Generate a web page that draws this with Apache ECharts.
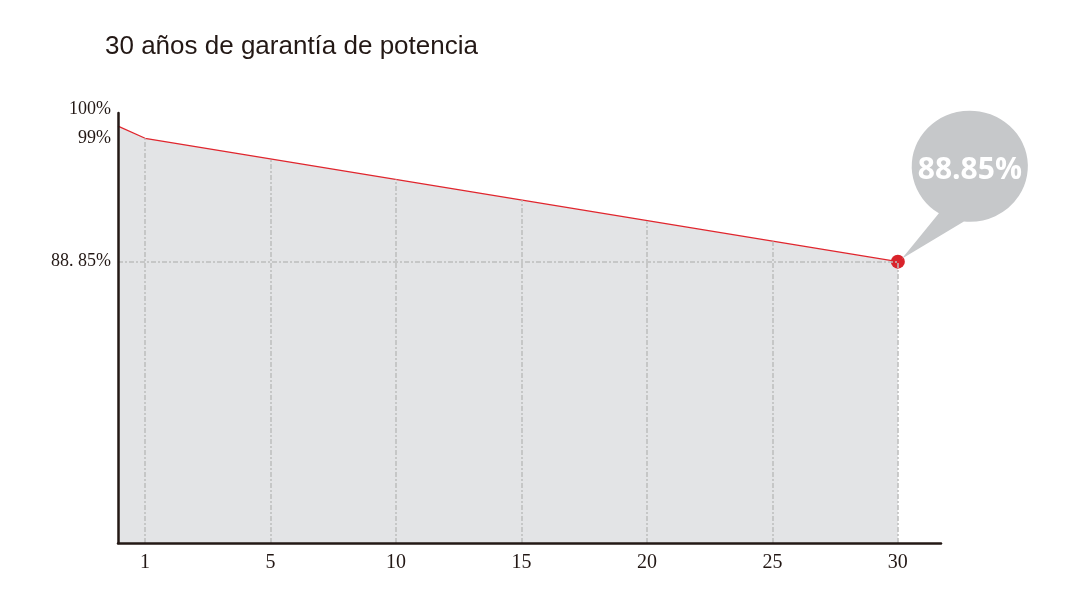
<!DOCTYPE html>
<html>
<head>
<meta charset="utf-8">
<script src="https://cdn.jsdelivr.net/npm/echarts@6/dist/echarts.min.js"></script>
<style>html,body{margin:0;padding:0;background:#fff;}#c{width:1086px;height:615px;}</style>
</head>
<body>
<div id="c"></div>
<script>
// Positions on the drawn horizontal scale (tick "1" sits at position 0)
const linePos = [-1.08, 0, 30];
const lineValues = [100, 99, 88.85];
const xTickPos = [0, 5, 10, 15, 20, 25, 30];
const xTickLabels = ['1', '5', '10', '15', '20', '25', '30'];
// Height of the curve read at each tick (top of each vertical guide line)
const guideTops = [99, 97.3, 95.6, 93.9, 92.2, 90.5, 88.85];
const yTickValues = [100, 99, 88.85];
const yTickLabels = ['100%', '99%', '88. 85%'];
const finalValue = 88.85;
const finalLabel = '88.85%';
const titleText = '30 años de garantía de potencia';

const X_MIN = -1.08, X_MAX = 31.72, Y_MIN = 65.7, Y_MAX = 101.08;

const lineData = linePos.map((p, i) => {
  const item = { value: [p, lineValues[i]] };
  if (i === linePos.length - 1) {
    item.symbol = 'circle';
    item.symbolSize = 14;
    item.itemStyle = { color: '#d9232b' };
  }
  return item;
});

const guideStyle = { color: '#bdbdbd', type: [5, 2, 2, 2], width: 1.5 };
const markLines = xTickPos.map((p, i) => [
  { coord: [p, Y_MIN] },
  { coord: [p, guideTops[i]] }
]);
markLines.push([{ coord: [X_MIN, finalValue] }, { coord: [linePos[linePos.length - 1], finalValue] }]);

const bubblePath = 'path://M 0 148 L 37 104 A 58 54 0 1 1 62 112 Z';

const chart = echarts.init(document.getElementById('c'));
chart.setOption({
  animation: false,
  backgroundColor: '#ffffff',
  title: {
    text: titleText,
    left: 100,
    top: 29,
    textStyle: { fontFamily: 'Liberation Sans', fontSize: 26, fontWeight: 'normal', color: '#231815' }
  },
  grid: { left: 118, right: 145, top: 113, bottom: 72 },
  xAxis: {
    type: 'value',
    min: X_MIN,
    max: X_MAX,
    z: 10,
    axisLine: { show: true, onZero: false, lineStyle: { color: '#231815', width: 2.5 } },
    axisTick: { show: false },
    splitLine: { show: false },
    axisLabel: {
      customValues: xTickPos,
      formatter: v => xTickLabels[xTickPos.indexOf(v)],
      margin: 10,
      fontFamily: 'Liberation Serif',
      fontSize: 20,
      color: '#231815'
    }
  },
  yAxis: {
    type: 'value',
    min: Y_MIN,
    max: Y_MAX,
    z: 10,
    axisLine: { show: true, onZero: false, lineStyle: { color: '#231815', width: 2.5 } },
    axisTick: { show: false },
    splitLine: { show: false },
    axisLabel: {
      customValues: yTickValues,
      formatter: v => {
        const t = yTickLabels[yTickValues.indexOf(v)];
        return v === yTickValues[0] ? '{up|' + t + '}' : t;
      },
      margin: 7,
      fontFamily: 'Liberation Serif',
      fontSize: 18,
      color: '#231815',
      rich: { up: { fontFamily: 'Liberation Serif', fontSize: 18, color: '#231815', padding: [0, 0, 34, 0] } }
    }
  },
  series: [{
    type: 'line',
    data: lineData,
    symbol: 'none',
    showSymbol: true,
    lineStyle: { color: '#e0262e', width: 1.3 },
    areaStyle: { color: '#e3e4e6', opacity: 1 },
    z: 3,
    markLine: {
      silent: true,
      symbol: 'none',
      label: { show: false },
      lineStyle: guideStyle,
      data: markLines
    },
    markPoint: {
      silent: true,
      symbol: bubblePath,
      symbolSize: [126, 148],
      symbolKeepAspect: false,
      symbolOffset: [67, -77],
      itemStyle: { color: '#c6c8ca' },
      label: {
        show: true,
        position: 'inside',
        offset: [5, -14],
        formatter: finalLabel,
        color: '#ffffff',
        fontFamily: 'Open Sans',
        fontWeight: 'bold',
        fontSize: 30
      },
      data: [{ coord: [linePos[linePos.length - 1], finalValue] }]
    }
  }]
});
</script>
</body>
</html>
